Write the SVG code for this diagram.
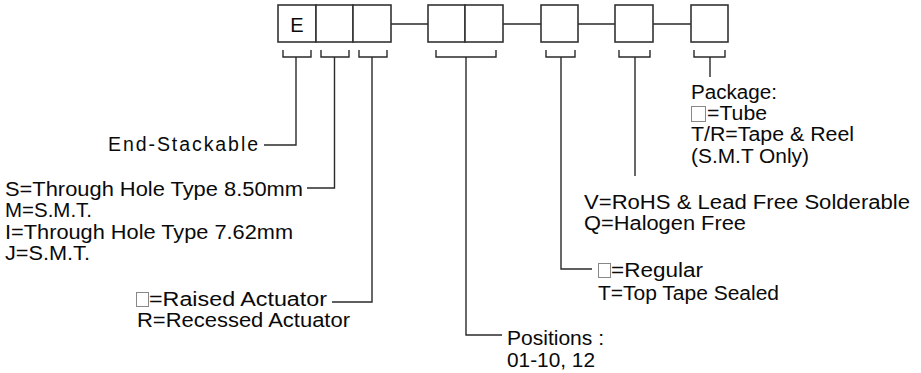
<svg xmlns="http://www.w3.org/2000/svg" width="921" height="373" viewBox="0 0 921 373">
<style>
.box{fill:#fff;stroke:#333;stroke-width:1.6}
.ln{fill:none;stroke:#2a2a2a;stroke-width:1.4}
.t{font-family:"Liberation Sans",Arial,sans-serif;font-size:19.5px;fill:#0a0a0a}
.sq{fill:#fff;stroke:#888;stroke-width:1}
</style>
<rect width="921" height="373" fill="#fff"/>
<g id="connectors">
<path class="ln" d="M391,24H428M503,24H541M578,24H615M653,24H691"/>
<path class="ln" d="M283,50V57H311V50M296,57V145H264"/>
<path class="ln" d="M321,50V57H349V50M334.5,57V188H307"/>
<path class="ln" d="M359,50V57H387V50M372,57V302H332"/>
<path class="ln" d="M436,50V57H496V50M466,57V335H502"/>
<path class="ln" d="M546,50V57H575V50M561,57V269H592"/>
<path class="ln" d="M619,50V57H650V50M635,57V176"/>
<path class="ln" d="M694,50V57H725V50M710,57V77"/>
</g>
<g id="box1"><rect class="box" x="278" y="5" width="38" height="37"/><text class="t" x="297" y="32" text-anchor="middle" style="font-size:20px">E</text></g>
<g id="box2"><rect class="box" x="316" y="5" width="37" height="37"/></g>
<g id="box3"><rect class="box" x="353" y="5" width="38" height="37"/></g>
<g id="box4"><rect class="box" x="428" y="5" width="37" height="37"/></g>
<g id="box5"><rect class="box" x="465" y="5" width="38" height="37"/></g>
<g id="box6"><rect class="box" x="541" y="5" width="37" height="37"/></g>
<g id="box7"><rect class="box" x="615" y="5" width="38" height="37"/></g>
<g id="box8"><rect class="box" x="691" y="5" width="37" height="37"/></g>
<g id="label-end">
<text class="t" x="108" y="151" textLength="150" lengthAdjust="spacing">End-Stackable</text>
</g>
<g id="label-type">
<text class="t" x="5" y="196" textLength="298" lengthAdjust="spacingAndGlyphs">S=Through Hole Type 8.50mm</text>
<text class="t" x="5" y="217" textLength="87" lengthAdjust="spacingAndGlyphs">M=S.M.T.</text>
<text class="t" x="5" y="239" textLength="288" lengthAdjust="spacingAndGlyphs">I=Through Hole Type 7.62mm</text>
<text class="t" x="5" y="260" textLength="85" lengthAdjust="spacingAndGlyphs">J=S.M.T.</text>
</g>
<g id="label-actuator">
<rect class="sq" x="136.5" y="292.5" width="12" height="14"/>
<text class="t" x="149" y="306" textLength="178" lengthAdjust="spacingAndGlyphs">=Raised Actuator</text>
<text class="t" x="137" y="327" textLength="213" lengthAdjust="spacingAndGlyphs">R=Recessed Actuator</text>
</g>
<g id="label-positions">
<text class="t" x="507" y="345" textLength="97" lengthAdjust="spacingAndGlyphs">Positions :</text>
<text class="t" x="507" y="367" textLength="88" lengthAdjust="spacingAndGlyphs">01-10, 12</text>
</g>
<g id="label-tape">
<rect class="sq" x="598.5" y="263.5" width="12" height="14"/>
<text class="t" x="611" y="277" textLength="92" lengthAdjust="spacingAndGlyphs">=Regular</text>
<text class="t" x="598" y="300" textLength="181" lengthAdjust="spacingAndGlyphs">T=Top Tape Sealed</text>
</g>
<g id="label-rohs">
<text class="t" x="584" y="209" textLength="326" lengthAdjust="spacingAndGlyphs">V=RoHS &amp; Lead Free Solderable</text>
<text class="t" x="584" y="230" textLength="162" lengthAdjust="spacingAndGlyphs">Q=Halogen Free</text>
</g>
<g id="label-package">
<text class="t" x="691" y="99" textLength="86" lengthAdjust="spacingAndGlyphs">Package:</text>
<rect class="sq" x="691.5" y="106.5" width="14" height="15"/>
<text class="t" x="707" y="120" textLength="60" lengthAdjust="spacingAndGlyphs">=Tube</text>
<text class="t" x="691" y="141" textLength="163" lengthAdjust="spacingAndGlyphs">T/R=Tape &amp; Reel</text>
<text class="t" x="691" y="163" textLength="118" lengthAdjust="spacingAndGlyphs">(S.M.T Only)</text>
</g>
</svg>
